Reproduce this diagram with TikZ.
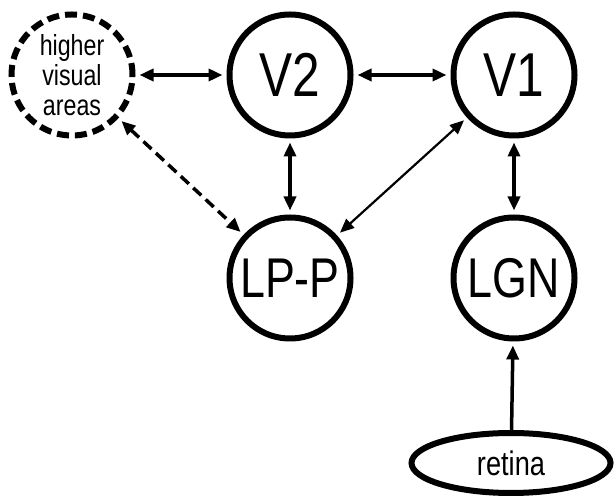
\documentclass[tikz,border=0pt]{standalone}
\usepackage{fontspec}
\setmainfont{Liberation Sans}[FakeStretch=0.8]
\usetikzlibrary{arrows.meta,shapes.geometric}

\begin{document}
\begin{tikzpicture}[x=1pt,y=1pt,
>={Triangle[length=14pt,width=12pt]},
areanode/.style={circle, draw=black, line width=6pt, minimum size=121pt, inner sep=0pt, align=center},
link/.style={line width=3.5pt, shorten >=4pt, shorten <=4pt},
thinlink/.style={line width=2.2pt, shorten >=4pt, shorten <=4pt}
]
    \useasboundingbox (0,0) rectangle (615,500);

    \node [areanode, dash pattern=on 12pt off 6pt, font=\fontsize{29}{30}\selectfont] (hva) at (72,425) {higher\\visual\\areas};
    \node [areanode, font=\fontsize{62}{62}\selectfont] (v2) at (290,425) {V2};
    \node [areanode, font=\fontsize{62}{62}\selectfont] (v1) at (514,425) {V1};
    \node [areanode, font=\fontsize{56}{56}\selectfont] (lpp) at (290,222) {LP-P};
    \node [areanode, font=\fontsize{56}{56}\selectfont] (lgn) at (514,222) {LGN};
    \node [ellipse, draw=black, line width=6pt, minimum width=199pt, minimum height=60pt, inner sep=0pt, font=\fontsize{34}{34}\selectfont] (retina) at (511,37) {retina};

    \draw [link,<->] (hva) edge (v2);
    \draw [link,<->] (v2) edge (v1);
    \draw [link,<->] (v2) edge (lpp);
    \draw [link,<->] (v1) edge (lgn);
    \draw [thinlink,<->] (lpp) edge (v1);
    \draw [link,dash pattern=on 11pt off 6pt,<->] (hva) edge (lpp);
    \draw [link,shorten <=0pt,->] (retina) edge (lgn);
\end{tikzpicture}
\end{document}
